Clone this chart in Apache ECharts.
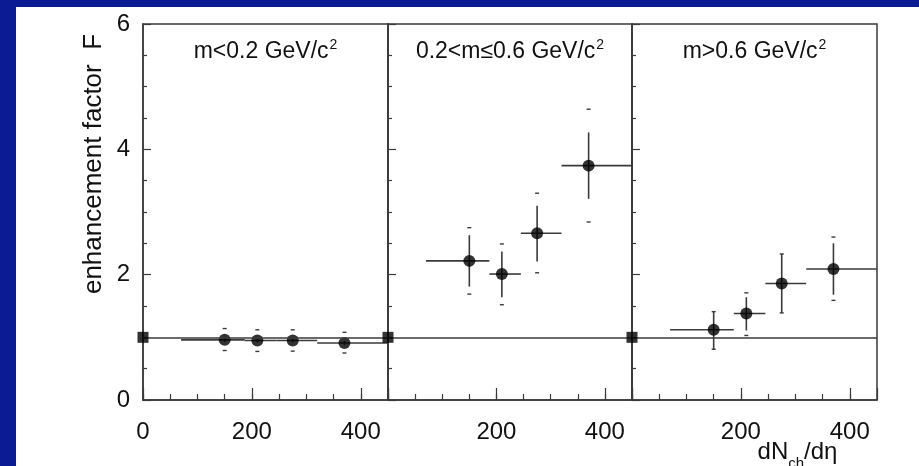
<!DOCTYPE html>
<html>
<head>
<meta charset="utf-8">
<script src="https://cdn.jsdelivr.net/npm/echarts@6/dist/echarts.min.js"></script>
<style>
  html, body { margin: 0; padding: 0; width: 919px; height: 466px; overflow: hidden; background: #0b1b93; }
  #paper { position: absolute; left: 16px; top: 7px; right: 0; bottom: 0; background: #ffffff; }
  #chart { position: absolute; left: 0; top: 0; width: 919px; height: 466px; }
</style>
</head>
<body>
<div id="paper"></div>
<div id="chart"></div>
<script>
// ---------------- data ----------------
const panelTitles = ['m<0.2 GeV/c', '0.2<m≤0.6 GeV/c', 'm>0.6 GeV/c'];
const yTickLabels = [0, 2, 4, 6];
const xTickLabelsFirst = [0, 200, 400];
const xTickLabelsOther = [200, 400];
const xRangeMax = 450;
const refX = [0];
const refF = [1];

// multiplicity bins (dNch/deta)
const xCenter = [150, 210, 275, 370];
const xLow    = [70, 187, 245, 320];
const xHigh   = [187, 245, 320, 450];

// panel 1: m < 0.2
const F1      = [0.96, 0.95, 0.95, 0.91];
const stat1Lo = [0.93, 0.92, 0.92, 0.88];
const stat1Hi = [0.99, 0.98, 0.98, 0.94];
const sys1Lo  = [0.79, 0.775, 0.78, 0.75];
const sys1Hi  = [1.14, 1.12, 1.12, 1.08];

// panel 2: 0.2 < m <= 0.6
const F2      = [2.22, 2.01, 2.66, 3.74];
const stat2Lo = [1.81, 1.64, 2.21, 3.21];
const stat2Hi = [2.63, 2.37, 3.10, 4.27];
const sys2Lo  = [1.69, 1.52, 2.03, 2.84];
const sys2Hi  = [2.75, 2.49, 3.30, 4.64];

// panel 3: m > 0.6
const F3      = [1.12, 1.38, 1.86, 2.09];
const stat3Lo = [0.81, 1.11, 1.39, 1.68];
const stat3Hi = [1.41, 1.64, 2.33, 2.50];
const sys3Lo  = [0.81, 1.03, 1.39, 1.59];
const sys3Hi  = [1.41, 1.71, 2.33, 2.60];

// ---------------- layout ----------------
const FONT = "'Liberation Sans', Arial, Helvetica, sans-serif";
const INK = '#111';
const LINE = '#3a3a3a';
const gridLeft = [143, 388, 632];
const gridWidth = [245, 244, 245];
const gridTop = 24, gridHeight = 376;

const panels = [
  { F: F1, sLo: stat1Lo, sHi: stat1Hi, yLo: sys1Lo, yHi: sys1Hi },
  { F: F2, sLo: stat2Lo, sHi: stat2Hi, yLo: sys2Lo, yHi: sys2Hi },
  { F: F3, sLo: stat3Lo, sHi: stat3Hi, yLo: sys3Lo, yHi: sys3Hi }
];

const grids = [], xAxes = [], yAxes = [], series = [], titles = [];

panels.forEach(function (p, i) {
  grids.push({
    left: gridLeft[i], top: gridTop, width: gridWidth[i], height: gridHeight,
    containLabel: false, outerBoundsMode: 'none',
    show: true, borderColor: LINE, borderWidth: 1.5, backgroundColor: 'transparent'
  });
  const labelSet = i === 0 ? xTickLabelsFirst : xTickLabelsOther;
  // main x axis: minor ticks every 50 + labels
  const xMain = {
    type: 'value', gridIndex: i, min: 0, max: xRangeMax, interval: 50, position: 'bottom',
    axisLine: { show: true, lineStyle: { color: LINE, width: 1.5 } },
    axisTick: { show: true, inside: true, length: 6, lineStyle: { color: LINE, width: 1.2 } },
    splitLine: { show: false },
    axisLabel: {
      show: true, margin: 20, fontSize: 24, color: INK, fontFamily: FONT,
      showMaxLabel: false,
      formatter: function (v) { return labelSet.indexOf(v) >= 0 ? String(v) : ''; }
    }
  };
  if (i === 2) {
    xMain.name = '{a|dN}{s|ch}{a|/dη}';
    xMain.nameLocation = 'middle';
    xMain.nameGap = 39;
    xMain.nameMoveOverlap = false;
    xMain.nameTextStyle = {
      padding: [0, 0, 0, 86],
      rich: {
        a: { fontSize: 24, fontFamily: FONT, color: INK, lineHeight: 26 },
        s: { fontSize: 15, fontFamily: FONT, color: INK, verticalAlign: 'bottom', lineHeight: 26, padding: [0, 0, -6, 0] }
      }
    };
  }
  xAxes.push(xMain);
  // major ticks every 200 (longer)
  xAxes.push({
    type: 'value', gridIndex: i, min: 0, max: xRangeMax, interval: 200, position: 'bottom',
    axisLine: { show: false },
    axisTick: { show: true, inside: true, length: 12, lineStyle: { color: LINE, width: 1.2 } },
    axisLabel: { show: false }, splitLine: { show: false }
  });
  const yAx = {
    type: 'value', gridIndex: i, min: 0, max: 6, interval: 2, position: 'left',
    axisLine: { show: true, lineStyle: { color: LINE, width: 1.5 } },
    axisTick: { show: true, inside: true, length: 8, lineStyle: { color: LINE, width: 1.2 } },
    minorTick: { show: true, splitNumber: 4, length: 4, lineStyle: { color: LINE, width: 1.2 } },
    splitLine: { show: false },
    axisLabel: {
      show: i === 0, margin: 13, fontSize: 24, color: INK, fontFamily: FONT,
      formatter: function (v) { return yTickLabels.indexOf(v) >= 0 ? String(v) : ''; }
    }
  };
  if (i === 0) {
    yAx.name = 'enhancement factor  F';
    yAx.nameLocation = 'middle';
    yAx.nameGap = 36;
    yAx.nameMoveOverlap = false;
    yAx.nameTextStyle = { fontSize: 26, color: INK, fontFamily: FONT, padding: [0, 0, 0, 96] };
  }
  yAxes.push(yAx);

  titles.push({
    text: '{m|' + panelTitles[i] + '}{s|2}',
    left: gridLeft[i] + gridWidth[i] / 2, top: 38, textAlign: 'center', padding: 0,
    textStyle: {
      fontWeight: 'normal',
      rich: {
        m: { fontSize: 23, fontWeight: 'normal', fontFamily: FONT, color: INK, lineHeight: 28 },
        s: { fontSize: 14, fontWeight: 'normal', fontFamily: FONT, color: INK, verticalAlign: 'top', lineHeight: 28, padding: [0, 0, 10, 1] }
      }
    }
  });

  const errData = xCenter.map(function (x, k) {
    return [x, p.F[k], xLow[k], xHigh[k], p.sLo[k], p.sHi[k], p.yLo[k], p.yHi[k]];
  });
  series.push({
    type: 'custom', xAxisIndex: 2 * i, yAxisIndex: i, clip: false, z: 3,
    encode: { x: [0, 2, 3], y: [1, 4, 5, 6, 7] },
    data: errData,
    renderItem: function (params, api) {
      const x = api.value(0), y = api.value(1);
      const l = api.coord([api.value(2), y]);
      const r = api.coord([api.value(3), y]);
      const sl = api.coord([x, api.value(4)]);
      const sh = api.coord([x, api.value(5)]);
      const yl = api.coord([x, api.value(6)]);
      const yh = api.coord([x, api.value(7)]);
      const st = { stroke: LINE, lineWidth: 1.6 };
      const ds = { stroke: LINE, lineWidth: 1.4 };
      return {
        type: 'group',
        children: [
          { type: 'line', shape: { x1: l[0], y1: l[1], x2: r[0], y2: r[1] }, style: st },
          { type: 'line', shape: { x1: sl[0], y1: sl[1], x2: sh[0], y2: sh[1] }, style: st },
          { type: 'line', shape: { x1: yl[0] - 2, y1: yl[1], x2: yl[0] + 2, y2: yl[1] }, style: ds },
          { type: 'line', shape: { x1: yh[0] - 2, y1: yh[1], x2: yh[0] + 2, y2: yh[1] }, style: ds }
        ]
      };
    }
  });
  series.push({
    type: 'scatter', xAxisIndex: 2 * i, yAxisIndex: i, z: 4,
    symbol: 'circle', symbolSize: 12,
    itemStyle: { color: '#000' },
    data: xCenter.map(function (x, k) { return [x, p.F[k]]; })
  });
  series.push({
    type: 'scatter', xAxisIndex: 2 * i, yAxisIndex: i, z: 5, clip: false,
    symbol: 'rect', symbolSize: 11,
    itemStyle: { color: '#000' },
    data: refX.map(function (x, k) { return [x, refF[k]]; }),
    markLine: {
      silent: true, symbol: 'none', label: { show: false },
      lineStyle: { color: LINE, width: 1.5, type: 'solid' },
      data: [{ yAxis: refF[0] }]
    }
  });
});

const chart = echarts.init(document.getElementById('chart'), null, { renderer: 'canvas' });
chart.setOption({
  backgroundColor: 'transparent',
  animation: false,
  title: titles,
  grid: grids,
  xAxis: xAxes,
  yAxis: yAxes,
  series: series
});
</script>
</body>
</html>
